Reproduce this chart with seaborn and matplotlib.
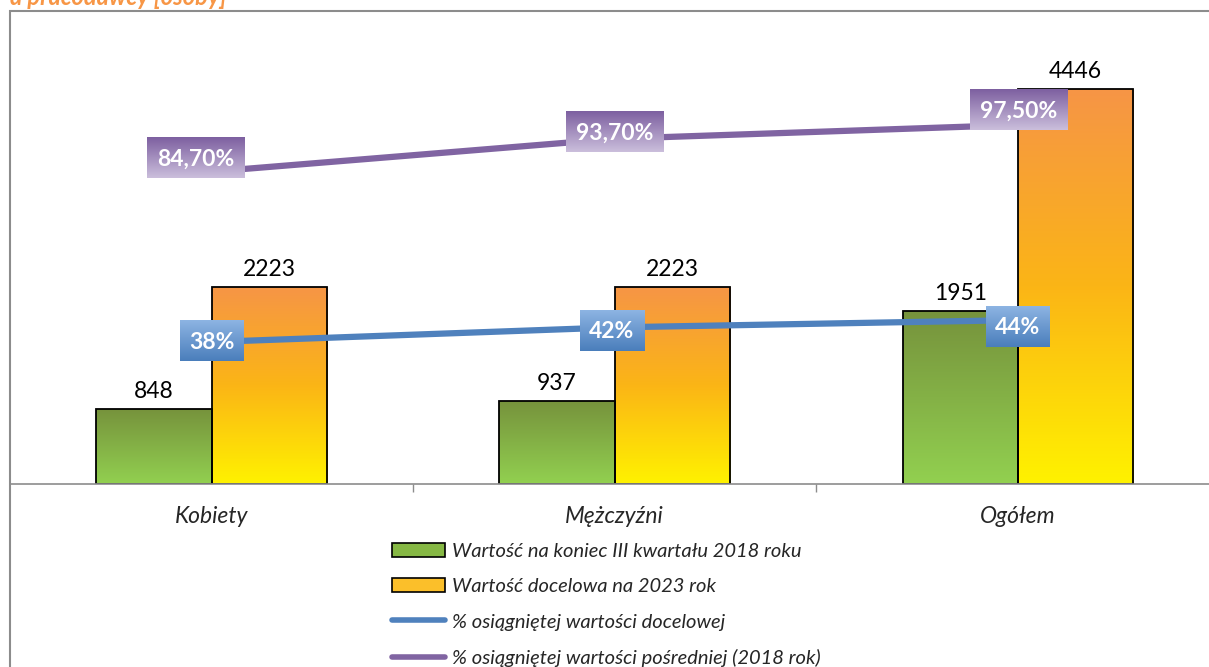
import numpy as np
import pandas as pd
import matplotlib
matplotlib.use("Agg")
import matplotlib.pyplot as plt
import seaborn as sns
from matplotlib.colors import LinearSegmentedColormap
from matplotlib.patches import Patch, Rectangle
from matplotlib.lines import Line2D

# data
categories = ["Kobiety", "Mężczyźni", "Ogółem"]
value_2018 = [848, 937, 1951]
target_2023 = [2223, 2223, 4446]
pct_target = [38, 42, 44]
pct_interim = [84.7, 93.7, 97.5]
bar_names = ["Wartość na koniec III kwartału 2018 roku", "Wartość docelowa na 2023 rok"]
line_names = ["% osiągniętej wartości docelowej",
              "% osiągniętej wartości pośredniej (2018 rok)"]
title = "a pracodawcy [osoby]"

W, H = 1209, 667
sns.set_theme(style="white")
plt.rcParams["font.family"] = ["Lato", "DejaVu Sans"]

fig = plt.figure(figsize=(W / 100, H / 100), dpi=100)
ax = fig.add_axes([10 / W, 1 - 484 / H, 1209.5 / W, 474 / H])

df = pd.DataFrame({
    "cat": categories * 2,
    "series": [bar_names[0]] * 3 + [bar_names[1]] * 3,
    "value": value_2018 + target_2023,
})
sns.barplot(data=df, x="cat", y="value", hue="series", order=categories,
            hue_order=bar_names, width=0.572, palette=["#8ab84a", "#fbbf2a"],
            edgecolor="black", linewidth=1.3, legend=False, ax=ax, zorder=2)

# gradient fills, top -> bottom
grads = [["#76923c", "#92d050"], ["#f69546", "#fbb516", "#fff200"]]
col = np.linspace(0, 1, 256).reshape(-1, 1)
for cont, cols in zip(ax.containers, grads):
    cmap = LinearSegmentedColormap.from_list("g", cols)
    for bar in cont:
        x0, y0 = bar.get_x(), bar.get_y()
        im = ax.imshow(col, cmap=cmap, origin="upper", aspect="auto", zorder=1.5,
                       extent=[x0, x0 + bar.get_width(), y0, y0 + bar.get_height()])
        im.set_clip_path(bar)
        bar.set_facecolor("none")
    ax.bar_label(cont, fmt="%d", padding=5, fontsize=16.5, color="black")

ax.set_xlim(-0.5, 2.5)
ax.set_ylim(0, 5336)
ax.set_yticks([])
ax.set_xticks(range(len(categories)), categories, fontsize=16.5, style="italic")
ax.set_xticks([0.5, 1.5], minor=True)
ax.tick_params(axis="x", which="major", length=0, pad=15.5)
ax.tick_params(axis="x", which="minor", bottom=True, length=6, color="#8c8c8c", width=1)
ax.set_xlabel("")
ax.set_ylabel("")
for s in ["top", "right", "left"]:
    ax.spines[s].set_visible(False)
ax.spines["bottom"].set_color("#8c8c8c")
ax.spines["bottom"].set_linewidth(1.2)

ax2 = ax.twinx()
xs = np.arange(len(categories))
sns.lineplot(x=xs, y=pct_interim, color="#8064a2", linewidth=4.5, ax=ax2, zorder=3)
sns.lineplot(x=xs, y=pct_target, color="#4f81bd", linewidth=4.5, ax=ax2, zorder=3)
ax2.set_ylim(-0.93, 129)
ax2.set_xlim(-0.5, 2.5)
ax2.set_yticks([])
ax2.set_ylabel("")
for s in ax2.spines.values():
    s.set_visible(False)

# gradient label boxes
box_specs = [
    (pct_interim, lambda v: f"{v:.2f}".replace(".", ",") + "%", 98,
     ["#7d5fa0", "#cbbfdc"], [(-16, 14), (0, 7), (1, 15)]),
    (pct_target, lambda v: f"{v:.0f}%", 64,
     ["#8db4e3", "#4a7ebb"], [(0, 1), (-3, -3), (0, -6)]),
]
for vals, fmt, bw, cols, offs in box_specs:
    cmap = LinearSegmentedColormap.from_list("b", cols)
    for i, v in enumerate(vals):
        px, py = ax2.transData.transform((i, v))
        cx, cy = px + offs[i][0], py + offs[i][1]
        bax = fig.add_axes([(cx - bw / 2) / W, (cy - 20.5) / H, bw / W, 41 / H])
        bax.imshow(col, cmap=cmap, origin="upper", aspect="auto", extent=[0, 1, 0, 1])
        bax.set_axis_off()
        bax.text(0.5, 0.47, fmt(v), ha="center", va="center", color="white",
                 fontweight="bold", fontsize=16.5)

# legend
handles = [
    Patch(facecolor="#86b844", edgecolor="black", linewidth=1.2),
    Patch(facecolor="#fbbf2a", edgecolor="black", linewidth=1.2),
    Line2D([0], [0], color="#4f81bd", linewidth=4, solid_capstyle="round"),
    Line2D([0], [0], color="#8064a2", linewidth=4, solid_capstyle="round"),
]
fig.legend(handles, bar_names + line_names, loc="upper left",
           bbox_to_anchor=(392 / W, 1 - 543 / H), frameon=False,
           prop={"style": "italic", "size": 14.5}, handlelength=2.65,
           handletextpad=0.35, labelspacing=0.9, borderpad=0, borderaxespad=0)

# chart frame and cut-off title
fig.add_artist(Rectangle((10 / W, -0.1), 1.2, 1.1 - 11 / H, transform=fig.transFigure,
                         fill=False, edgecolor="#8c8c8c", linewidth=1.5))
fig.text(10 / W, 1 - 5 / H, title, color="#f79646", fontweight="bold",
         style="italic", fontsize=17, va="baseline")

fig.savefig("out.png", dpi=100)
